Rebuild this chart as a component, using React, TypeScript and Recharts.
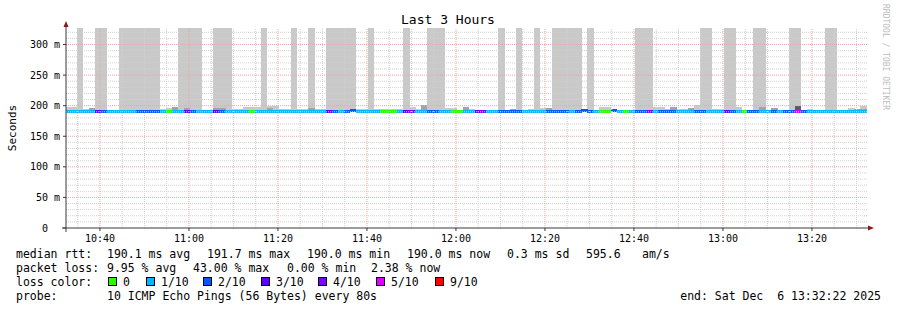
import { Bar, Cell, ComposedChart, ReferenceLine, XAxis, YAxis } from 'recharts';

const FONT = '"DejaVu Sans Mono", monospace';

// graph window, wall clock
const GRAPH_END = '13:32:22';
const GRAPH_SPAN_MIN = 180;
// one row per 80 s sample, the first one starts just left of the graph
const FIRST_SAMPLE_START = '10:32:10';
const STEP_SEC = 80;

// lost pings out of 10, per sample
const lossLevel = [
  1, 1, 1, 1, 1, 3, 2, 1, 1, 1,
  1, 1, 2, 2, 2, 2, 1, 0, 1, 1,
  3, 2, 1, 1, 1, 3, 2, 1, 1, 1,
  1, 0, 1, 1, 1, 1, 1, 1, 1, 1,
  1, 1, 1, 1, 3, 2, 1, 2, 2, 1,
  1, 1, 1, 0, 0, 0, 1, 3, 4, 1,
  1, 2, 2, 1, 1, 0, 0, 1, 1, 3,
  4, 1, 1, 2, 2, 2, 2, 1, 1, 1,
  1, 2, 2, 2, 2, 1, 2, 2, 2, 1,
  0, 0, 2, 1, 0, 1, 2, 2, 4, 1,
  2, 2, 2, 1, 1, 1, 2, 2, 1, 1,
  1, 3, 2, 1, 0, 2, 2, 1, 1, 2,
  1, 2, 2, 5, 2, 1, 1, 1, 1, 1,
  1, 1, 1, 1, 1, 1,
];

// median rtt in ms
const medianMs = [
  190, 190, 190, 190, 190, 190, 190, 190, 190, 190,
  190, 190, 190, 190, 190, 190, 190, 190, 190, 190,
  190, 190, 191.2, 190, 190, 190, 190, 190, 190, 190,
  190, 190, 190, 190, 190, 190, 190, 190, 190, 190,
  190, 190, 190, 190, 190, 190, 190, 190, 191.7, 190,
  190, 190, 190, 190, 190, 190, 190, 190, 190, 190,
  190, 190, 190, 190, 190, 190, 190, 190, 190, 190,
  190, 190, 190, 190, 190, 190, 190, 190, 190, 190,
  190, 190, 190, 190, 190, 190, 190, 191.7, 190, 190,
  190, 190, 191.5, 190, 190, 190, 190, 190, 190, 190,
  190, 190, 190, 191.2, 190, 190, 190, 190, 190, 190,
  190, 191.2, 190, 190, 190, 190, 190, 190, 190, 190,
  190, 190, 190, 190, 190, 190, 190, 190, 190, 190,
  190, 190, 190, 190, 190, 190,
];

// top of the light smoke in ms (400 = runs off the top of the graph)
const smokeTopMs = [
  198, 198, 400, 194.5, 194, 400, 400, 192, 192, 400,
  400, 400, 400, 400, 400, 400, 194.5, 197, 194, 400,
  400, 400, 400, 192, 192, 400, 400, 400, 194.5, 194.5,
  198, 198, 198, 400, 199.5, 199.5, 194.5, 194.5, 400, 194.5,
  194.5, 400, 194.5, 194.5, 400, 400, 400, 400, 400, 194.5,
  194.5, 400, 194.5, 194.5, 194.5, 194.5, 194.5, 400, 198, 194.5,
  194, 400, 400, 400, 196, 196, 192, 194, 194.5, 192,
  192, 192, 192, 400, 192, 193, 400, 192, 194.5, 400,
  196, 194, 400, 400, 400, 400, 400, 193, 400, 192,
  198, 198, 193, 192, 192, 192, 400, 400, 400, 198,
  198, 194.5, 194, 194.5, 194.5, 194, 201, 400, 400, 194.5,
  194.5, 400, 400, 198, 192, 192, 400, 400, 192, 194,
  192, 192, 400, 400, 192, 194.5, 192, 192, 400, 400,
  192, 192, 196, 194, 199.5, 196,
];

// darker smoke: [sample, top ms, tone]
const smokeCore: [number, number, number][] = [
  [4, 196, 1], [18, 198, 1], [20, 196, 1], [25, 196, 1], [26, 196, 1],
  [34, 196, 1], [41, 196, 1], [60, 201, 1], [67, 198, 1], [75, 194.5, 1],
  [81, 196, 1], [87, 194.5, 1], [92, 194.5, 1], [102, 198, 1], [105, 196, 1],
  [117, 198, 1], [119, 196, 1], [123, 199.5, 2], [133, 194.5, 1], [134, 194.5, 1],
];

const LOSS_KEYS = [0, 1, 2, 3, 4, 5, 9];
const LOSS_LABELS = ['0', '1/10', '2/10', '3/10', '4/10', '5/10', '9/10'];
const LOSS_COLORS = ['#26ff00', '#00b8ff', '#0059ff', '#5e00ff', '#7e00ff', '#dd00ff', '#ff0000'];
const CORE_TONES = ['#c9c9c9', '#a3a3a3', '#5c5c5c'];

const Y_TICKS = [0, 50, 100, 150, 200, 250, 300];
const Y_MAX = 327;
const TIME_TICKS = ['10:40', '11:00', '11:20', '11:40', '12:00', '12:20', '12:40', '13:00', '13:20'];

const SMOKE_FLOOR = 189;
const LINE_HALF = 2.45;

const toMin = (s: string) => {
  const [h, m, sec = '0'] = s.split(':');
  return +h * 60 + +m + +sec / 60;
};
const fmt = (v: number) => {
  const h = Math.floor(v / 60);
  const m = Math.round(v - h * 60);
  return `${h}:${String(m).padStart(2, '0')}`;
};

const T1 = toMin(GRAPH_END);
const T0 = T1 - GRAPH_SPAN_MIN;
const start = toMin(FIRST_SAMPLE_START);

const coreBySample = new Map(smokeCore.map(([i, top, tone]) => [i, { top, tone }]));

const rows = medianMs.map((m, i) => {
  const core = coreBySample.get(i);
  return {
    t: start + ((i + 0.5) * STEP_SEC) / 60,
    smoke: [SMOKE_FLOOR, smokeTopMs[i]],
    core: core ? [SMOKE_FLOOR, core.top] : [SMOKE_FLOOR, SMOKE_FLOOR],
    tone: core ? core.tone : 0,
    med: [m - LINE_HALF, m + LINE_HALF],
    loss: lossLevel[i],
  };
});

const majorTimes = TIME_TICKS.map(toMin);
const minorTimes: number[] = [];
for (let v = Math.ceil(T0 / 5) * 5; v < T1; v += 5) {
  if (!majorTimes.includes(v)) minorTimes.push(v);
}
const minorMs: number[] = [];
for (let v = 10; v < Y_MAX; v += 10) {
  if (v % 50 !== 0) minorMs.push(v);
}

const MINOR = '#d0d0d0';
const MAJOR = '#eda5a5';
const ARROW = '#8b1a1a';
const AXIS = '#3a3a3a';

// bars touch each other without seams: each one reaches a pixel under its right neighbour
const Slab = (p: any) => {
  const h = Math.abs(p.height);
  if (!h || p.fill === 'transparent') return null;
  return (
    <rect
      x={p.x}
      y={Math.min(p.y, p.y + p.height)}
      width={p.width + 1}
      height={h}
      fill={p.fill}
      shapeRendering="crispEdges"
    />
  );
};

const YTick = (props: any) => {
  const { y, payload } = props;
  const v = payload.value;
  return (
    <text x={v === 0 ? 48 : 60} y={y} dy="0.35em" textAnchor="end" fontFamily={FONT} fontSize={10} fill="#000">
      {v === 0 ? '0' : `${v} m`}
    </text>
  );
};

const rtt: [string, number][] = [
  ['median rtt:', 16], ['190.1 ms avg', 107], ['191.7 ms max', 207], ['190.0 ms min', 307],
  ['190.0 ms now', 407], ['0.3 ms sd', 507], ['595.6', 586], ['am/s', 642],
];
const loss: [string, number][] = [
  ['packet loss:', 16], ['9.95 % avg', 107], ['43.00 % max', 193], ['0.00 % min', 287], ['2.38 % now', 371],
];
const swatchX = [108, 146, 203, 261, 318, 376, 435];

export default function App() {
  const txt = { fontFamily: FONT, fontSize: 11.5, fill: '#000' };
  return (
    <div style={{ position: 'absolute', left: 0, top: 0, width: 897, height: 310, background: '#fff' }}>
      <ComposedChart width={897} height={310} data={rows} margin={{ top: 28, right: 30, bottom: 52, left: 0 }}>
        <XAxis
          xAxisId="t"
          type="number"
          dataKey="t"
          domain={[T0, T1]}
          allowDataOverflow
          ticks={majorTimes}
          interval={0}
          tickFormatter={fmt}
          height={30}
          axisLine={false}
          tickLine={{ stroke: AXIS }}
          tickSize={3}
          tickMargin={4}
          tick={{ fontFamily: FONT, fontSize: 10, fill: '#000' }}
        />
        <XAxis xAxisId="core" orientation="top" height={0} type="number" dataKey="t" domain={[T0, T1]} allowDataOverflow hide />
        <XAxis xAxisId="med" orientation="top" height={0} type="number" dataKey="t" domain={[T0, T1]} allowDataOverflow hide />
        <YAxis
          type="number"
          domain={[0, Y_MAX]}
          allowDataOverflow
          ticks={Y_TICKS}
          interval={0}
          width={66}
          axisLine={false}
          tickLine={{ stroke: AXIS }}
          tickSize={3}
          tick={YTick}
        />
        <Bar xAxisId="t" dataKey="smoke" barSize={6} fill={CORE_TONES[0]} shape={Slab} isAnimationActive={false} />
        <Bar xAxisId="core" dataKey="core" barSize={6} shape={Slab} isAnimationActive={false}>
          {rows.map((r, i) => (
            <Cell key={i} fill={r.tone ? CORE_TONES[r.tone] : 'transparent'} />
          ))}
        </Bar>
        <Bar xAxisId="med" dataKey="med" barSize={6} shape={Slab} isAnimationActive={false}>
          {rows.map((r, i) => (
            <Cell key={i} fill={LOSS_COLORS[LOSS_KEYS.indexOf(r.loss)]} />
          ))}
        </Bar>
        {minorMs.map((v) => (
          <ReferenceLine key={`hm${v}`} xAxisId="t" y={v} stroke={MINOR} strokeDasharray="1 1" />
        ))}
        {minorTimes.map((v) => (
          <ReferenceLine key={`vm${v}`} xAxisId="t" x={v} stroke={MINOR} strokeDasharray="1 1" />
        ))}
        {Y_TICKS.filter((v) => v > 0).map((v) => (
          <ReferenceLine key={`hM${v}`} xAxisId="t" y={v} stroke={MAJOR} strokeDasharray="1 1" />
        ))}
        {majorTimes.map((v) => (
          <ReferenceLine key={`vM${v}`} xAxisId="t" x={v} stroke={MAJOR} strokeDasharray="1 1" />
        ))}
      </ComposedChart>

      <svg width={897} height={310} style={{ position: 'absolute', left: 0, top: 0, pointerEvents: 'none' }}>
        <text x={448} y={24} textAnchor="middle" fontFamily={FONT} fontSize={13} fill="#000">
          Last 3 Hours
        </text>
        <text transform="translate(16,128) rotate(-90)" textAnchor="middle" fontFamily={FONT} fontSize={11} fill="#000">
          Seconds
        </text>
        <text transform="translate(883,4) rotate(90)" fontFamily={FONT} fontSize={8} fill="#bdbdbd">
          RRDTOOL / TOBI OETIKER
        </text>

        <line x1={66} y1={232} x2={66} y2={26} stroke={AXIS} strokeWidth={1} />
        <polygon points="63.5,27 68.5,27 66,21" fill={ARROW} />
        <line x1={62} y1={228} x2={868} y2={228} stroke={AXIS} strokeWidth={1} />
        <polygon points="868,225.5 868,230.5 874,228" fill={ARROW} />

        {rtt.map(([s, x]) => (
          <text key={s} x={x} y={258} {...txt}>{s}</text>
        ))}
        {loss.map(([s, x]) => (
          <text key={s} x={x} y={272} {...txt}>{s}</text>
        ))}
        <text x={16} y={286} {...txt}>loss color:</text>
        {LOSS_LABELS.map((s, i) => (
          <g key={s}>
            <rect x={swatchX[i] + 0.5} y={277.5} width={8} height={8} fill={LOSS_COLORS[i]} stroke="#000" strokeWidth={1} />
            <text x={swatchX[i] + 15} y={286} {...txt}>{s}</text>
          </g>
        ))}
        <text x={16} y={300} {...txt}>probe:</text>
        <text x={107} y={300} {...txt}>10 ICMP Echo Pings (56 Bytes) every 80s</text>
        <text x={881} y={300} textAnchor="end" style={{ whiteSpace: 'pre' }} {...txt}>
          end: Sat Dec  6 13:32:22 2025
        </text>
      </svg>
    </div>
  );
}
